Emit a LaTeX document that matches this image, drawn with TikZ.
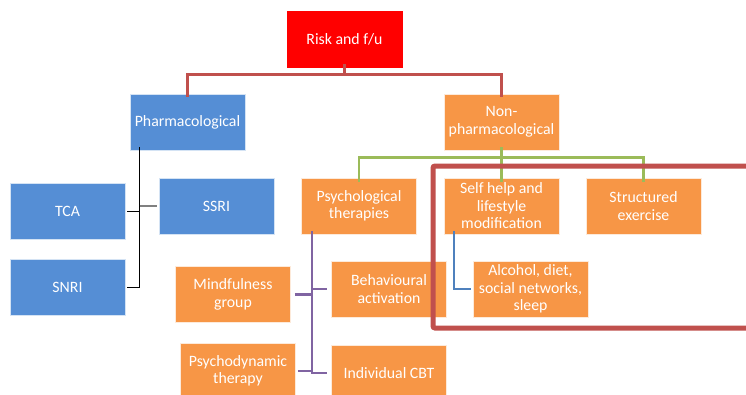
\documentclass[tikz,border=0pt]{standalone}
\usepackage{fontspec}
\setmainfont{Carlito}
\definecolor{boxblue}{HTML}{558ED5}
\definecolor{boxorange}{HTML}{F79646}
\definecolor{boxred}{HTML}{FF0000}
\definecolor{linered}{HTML}{C0504D}
\definecolor{linegreen}{HTML}{9BBB59}
\definecolor{linepurple}{HTML}{8064A2}
\definecolor{lineblue}{HTML}{4F81BD}
\begin{document}
\begin{tikzpicture}[x=1pt,y=-1pt,
  box/.style={draw=white!80!boxorange, line width=0.6pt, minimum width=115pt, minimum height=56pt,
    inner sep=1pt, text=white, align=center, font=\fontsize{15.8}{17.5}\selectfont},
  bluebox/.style={box, fill=boxblue, draw=white!75!boxblue},
  orangebox/.style={box, fill=boxorange},
  redbox/.style={box, fill=boxred, draw=boxred},
  redline/.style={draw=linered, line width=2.4pt},
  greenline/.style={draw=linegreen, line width=2.4pt},
  purpleline/.style={draw=linepurple, line width=2.4pt},
  blueline/.style={draw=lineblue, line width=2.4pt},
  blackline/.style={draw=black, line width=1pt},
  grayline/.style={draw=gray, line width=1.6pt},
  highlight/.style={draw=linered, line width=5pt, rounded corners=2pt}
]
\useasboundingbox (0,0) rectangle (746,394);
\fill[white] (0,0) rectangle (746,394);

\node[redbox] (risk) at (344.5,39) {Risk and f/u};
\node[bluebox] (pharm) at (187.5,122) {Pharmacological};
\node[orangebox] (nonph) at (501.5,122) {Non-\\pharmacological};
\node[bluebox] (tca) at (67.5,211) {TCA};
\node[bluebox] (snri) at (67.5,287) {SNRI};
\node[bluebox] (ssri) at (216.5,206) {SSRI};
\node[orangebox] (psych) at (359,206) {Psychological\\therapies};
\node[orangebox] (self) at (501.5,206) {Self help and\\lifestyle\\modification};
\node[orangebox] (struct) at (643.5,206) {Structured\\exercise};
\node[orangebox] (mind) at (233,294.5) {Mindfulness\\group};
\node[orangebox] (behav) at (389,289) {Behavioural\\activation};
\node[orangebox] (dyn) at (238,371) {Psychodynamic\\therapy};
\node[orangebox] (cbt) at (389,373) {Individual CBT};
\node[orangebox] (alc) at (530.5,289) {Alcohol, diet,\\social networks,\\sleep};

% red connectors
\coordinate (rtop) at ([yshift=3pt]risk.south);
\draw[redline] (rtop) -- ++(0,10) -| ([yshift=-3pt]pharm.north);
\draw[redline] (rtop) ++(0,10) -| ([yshift=-3pt]nonph.north);

% black / gray connectors (pharmacological)
\coordinate (ptop) at ([xshift=10pt,yshift=3pt]pharm.south west);
\coordinate (pbot) at (ptop |- snri.east);
\draw[blackline] (ptop) -- (pbot) -- ([xshift=2pt]snri.east);
\draw[blackline] (ptop |- tca.east) -- ([xshift=2pt]tca.east);
\draw[grayline] (ptop |- ssri.west) -- ([xshift=-2pt]ssri.west);

% green connectors
\coordinate (ntop) at ([yshift=3pt]nonph.south);
\draw[greenline] (ntop) -- ++(0,10) -| ([yshift=-4pt]psych.north);
\draw[greenline] (ntop) ++(0,10) -| ([yshift=-4pt]struct.north);
\draw[greenline] (ntop) -- ([yshift=-4pt]self.north);

% purple connectors
\coordinate (ptt) at ([xshift=11pt,yshift=3pt]psych.south west);
\draw[purpleline] (ptt) -- (ptt |- cbt.west) -- ([xshift=-4pt]cbt.west);
\draw[purpleline] (ptt |- behav.west) -- ([xshift=-4pt]behav.west);
\draw[purpleline] ([xshift=4pt]mind.east) -- (ptt |- mind.east);
\draw[purpleline] ([xshift=2pt]dyn.east) -- (ptt |- dyn.east);

% blue connector
\coordinate (stt) at ([xshift=10pt,yshift=3pt]self.south west);
\draw[blueline] (stt) -- (stt |- alc.west) -- ([xshift=-2pt]alc.west);

% highlight rectangle
\draw[highlight] (433,166) rectangle (770,328);
\end{tikzpicture}
\end{document}
